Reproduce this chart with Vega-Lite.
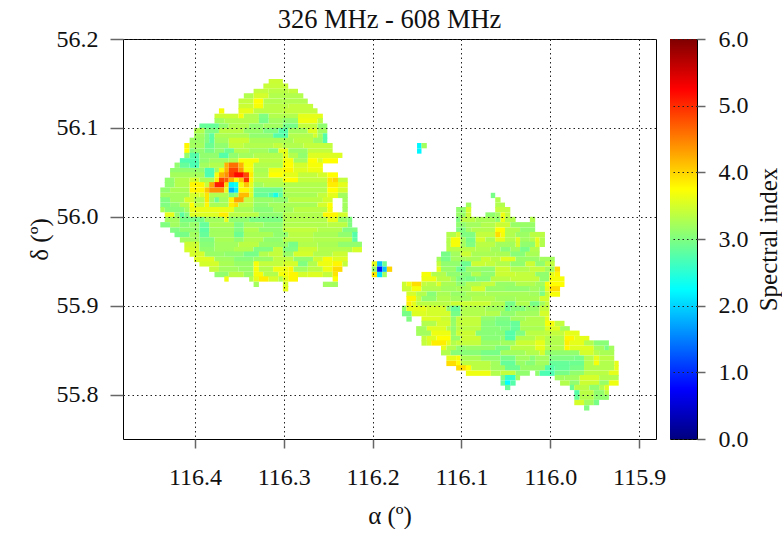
{"$schema":"https://vega.github.io/schema/vega-lite/v6.json","background":"white","padding":{"left":26,"top":6,"right":0,"bottom":0},"spacing":14,"bounds":"flush","config":{"font":"Liberation Serif","view":{"stroke":"black","strokeWidth":1},"axis":{"labelFont":"Liberation Serif","titleFont":"Liberation Serif","labelFontSize":24,"titleFontSize":25,"labelColor":"#111","titleColor":"#111","labelFontWeight":"normal","titleFontWeight":"normal"},"title":{"font":"Liberation Serif","fontSize":26.5,"fontWeight":"normal","color":"#111"}},"hconcat":[{"width":533,"height":400,"title":{"text":"326 MHz - 608 MHz","offset":-6},"data":{"values":[
{"a":116.317,"b":116.301,"d":56.152,"s":3.45},{"a":116.323,"b":116.295,"d":56.147,"s":3.42},
{"a":116.334,"b":116.317,"d":56.141,"s":3.4},{"a":116.317,"b":116.295,"d":56.141,"s":3.35},{"a":116.295,"b":116.284,"d":56.141,"s":3.4},
{"a":116.345,"b":116.334,"d":56.136,"s":3.3},{"a":116.334,"b":116.317,"d":56.136,"s":3.5},{"a":116.317,"b":116.278,"d":56.136,"s":3.3},
{"a":116.351,"b":116.334,"d":56.13,"s":3.4},{"a":116.334,"b":116.323,"d":56.13,"s":3.75},{"a":116.323,"b":116.301,"d":56.13,"s":3.3},{"a":116.301,"b":116.273,"d":56.13,"s":3.3},
{"a":116.351,"b":116.334,"d":56.124,"s":3.45},{"a":116.334,"b":116.323,"d":56.124,"s":3.7},{"a":116.323,"b":116.295,"d":56.124,"s":3.35},{"a":116.295,"b":116.267,"d":56.124,"s":3.4},
{"a":116.373,"b":116.367,"d":56.119,"s":3.7},{"a":116.351,"b":116.334,"d":56.119,"s":3.6},{"a":116.334,"b":116.301,"d":56.119,"s":3.35},{"a":116.301,"b":116.262,"d":56.119,"s":3.4},
{"a":116.378,"b":116.351,"d":56.113,"s":3.45},{"a":116.351,"b":116.345,"d":56.113,"s":3.7},{"a":116.345,"b":116.328,"d":56.113,"s":3.3},{"a":116.328,"b":116.317,"d":56.113,"s":3.0},{"a":116.317,"b":116.284,"d":56.113,"s":3.3},{"a":116.284,"b":116.256,"d":56.113,"s":3.6},
{"a":116.378,"b":116.367,"d":56.108,"s":3.2},{"a":116.367,"b":116.328,"d":56.108,"s":3.3},{"a":116.328,"b":116.317,"d":56.108,"s":2.95},{"a":116.317,"b":116.301,"d":56.108,"s":3.2},{"a":116.301,"b":116.284,"d":56.108,"s":3.1},{"a":116.284,"b":116.262,"d":56.108,"s":3.65},{"a":116.262,"b":116.256,"d":56.108,"s":3.35},
{"a":116.395,"b":116.373,"d":56.102,"s":2.85},{"a":116.373,"b":116.362,"d":56.102,"s":3.1},{"a":116.362,"b":116.339,"d":56.102,"s":3.3},{"a":116.339,"b":116.323,"d":56.102,"s":3.1},{"a":116.323,"b":116.301,"d":56.102,"s":3.2},{"a":116.301,"b":116.284,"d":56.102,"s":2.95},{"a":116.284,"b":116.262,"d":56.102,"s":3.4},{"a":116.262,"b":116.251,"d":56.102,"s":3.1},
{"a":116.401,"b":116.389,"d":56.097,"s":3.3},{"a":116.389,"b":116.373,"d":56.097,"s":3.0},{"a":116.373,"b":116.345,"d":56.097,"s":3.35},{"a":116.345,"b":116.323,"d":56.097,"s":3.15},{"a":116.323,"b":116.306,"d":56.097,"s":3.0},{"a":116.306,"b":116.295,"d":56.097,"s":2.75},{"a":116.295,"b":116.273,"d":56.097,"s":3.2},{"a":116.273,"b":116.262,"d":56.097,"s":3.55},{"a":116.262,"b":116.251,"d":56.097,"s":3.2},
{"a":116.401,"b":116.389,"d":56.091,"s":3.2},{"a":116.389,"b":116.384,"d":56.091,"s":3.0},{"a":116.384,"b":116.378,"d":56.091,"s":2.8},{"a":116.378,"b":116.339,"d":56.091,"s":3.27},{"a":116.339,"b":116.312,"d":56.091,"s":3.1},{"a":116.312,"b":116.295,"d":56.091,"s":2.75},{"a":116.295,"b":116.267,"d":56.091,"s":3.3},{"a":116.267,"b":116.262,"d":56.091,"s":3.5},{"a":116.262,"b":116.256,"d":56.091,"s":3.2},{"a":116.256,"b":116.251,"d":56.091,"s":2.75},
{"a":116.406,"b":116.389,"d":56.086,"s":3.17},{"a":116.389,"b":116.384,"d":56.086,"s":3.0},{"a":116.384,"b":116.378,"d":56.086,"s":2.8},{"a":116.378,"b":116.362,"d":56.086,"s":3.2},{"a":116.362,"b":116.339,"d":56.086,"s":3.45},{"a":116.339,"b":116.289,"d":56.086,"s":3.25},{"a":116.289,"b":116.267,"d":56.086,"s":3.35},{"a":116.267,"b":116.256,"d":56.086,"s":3.15},{"a":116.256,"b":116.251,"d":56.086,"s":2.75},
{"a":116.412,"b":116.406,"d":56.08,"s":3.8},{"a":116.406,"b":116.389,"d":56.08,"s":3.2},{"a":116.389,"b":116.378,"d":56.08,"s":2.9},{"a":116.378,"b":116.362,"d":56.08,"s":3.1},{"a":116.362,"b":116.345,"d":56.08,"s":3.4},{"a":116.345,"b":116.312,"d":56.08,"s":3.3},{"a":116.312,"b":116.301,"d":56.08,"s":3.4},{"a":116.301,"b":116.278,"d":56.08,"s":3.3},{"a":116.278,"b":116.245,"d":56.08,"s":3.4},
{"a":116.412,"b":116.406,"d":56.074,"s":3.75},{"a":116.406,"b":116.401,"d":56.074,"s":3.0},{"a":116.401,"b":116.389,"d":56.074,"s":3.1},{"a":116.389,"b":116.378,"d":56.074,"s":2.95},{"a":116.378,"b":116.367,"d":56.074,"s":3.1},{"a":116.367,"b":116.356,"d":56.074,"s":2.9},{"a":116.356,"b":116.339,"d":56.074,"s":3.3},{"a":116.339,"b":116.317,"d":56.074,"s":3.2},{"a":116.317,"b":116.306,"d":56.074,"s":3.05},{"a":116.306,"b":116.295,"d":56.074,"s":3.6},{"a":116.295,"b":116.273,"d":56.074,"s":3.15},{"a":116.273,"b":116.245,"d":56.074,"s":3.4},
{"a":116.412,"b":116.406,"d":56.069,"s":3.1},{"a":116.406,"b":116.395,"d":56.069,"s":2.75},{"a":116.395,"b":116.373,"d":56.069,"s":3.1},{"a":116.373,"b":116.362,"d":56.069,"s":2.75},{"a":116.362,"b":116.351,"d":56.069,"s":3.1},{"a":116.351,"b":116.334,"d":56.069,"s":3.2},{"a":116.334,"b":116.301,"d":56.069,"s":3.3},{"a":116.301,"b":116.295,"d":56.069,"s":3.6},{"a":116.295,"b":116.284,"d":56.069,"s":3.3},{"a":116.284,"b":116.273,"d":56.069,"s":3.1},{"a":116.273,"b":116.234,"d":56.069,"s":3.55},
{"a":116.417,"b":116.395,"d":56.063,"s":2.72},{"a":116.395,"b":116.384,"d":56.063,"s":3.1},{"a":116.384,"b":116.362,"d":56.063,"s":3.2},{"a":116.362,"b":116.351,"d":56.063,"s":3.3},{"a":116.351,"b":116.328,"d":56.063,"s":3.7},{"a":116.328,"b":116.301,"d":56.063,"s":3.35},{"a":116.301,"b":116.289,"d":56.063,"s":3.7},{"a":116.289,"b":116.273,"d":56.063,"s":3.2},{"a":116.273,"b":116.262,"d":56.063,"s":3.75},{"a":116.262,"b":116.256,"d":56.063,"s":3.5},{"a":116.256,"b":116.239,"d":56.063,"s":3.75},
{"a":116.423,"b":116.417,"d":56.058,"s":3.1},{"a":116.417,"b":116.406,"d":56.058,"s":2.85},{"a":116.406,"b":116.395,"d":56.058,"s":2.7},{"a":116.395,"b":116.384,"d":56.058,"s":3.2},{"a":116.384,"b":116.367,"d":56.058,"s":3.3},{"a":116.367,"b":116.362,"d":56.058,"s":4.2},{"a":116.362,"b":116.351,"d":56.058,"s":4.6},{"a":116.351,"b":116.345,"d":56.058,"s":4.2},{"a":116.345,"b":116.334,"d":56.058,"s":3.7},{"a":116.334,"b":116.301,"d":56.058,"s":3.3},{"a":116.301,"b":116.289,"d":56.058,"s":3.75},{"a":116.289,"b":116.273,"d":56.058,"s":3.5},{"a":116.273,"b":116.256,"d":56.058,"s":3.7},
{"a":116.428,"b":116.389,"d":56.052,"s":3.1},{"a":116.389,"b":116.378,"d":56.052,"s":2.7},{"a":116.378,"b":116.373,"d":56.052,"s":3.2},{"a":116.373,"b":116.367,"d":56.052,"s":3.7},{"a":116.367,"b":116.362,"d":56.052,"s":4.2},{"a":116.362,"b":116.351,"d":56.052,"s":4.85},{"a":116.351,"b":116.345,"d":56.052,"s":4.35},{"a":116.345,"b":116.334,"d":56.052,"s":3.7},{"a":116.334,"b":116.317,"d":56.052,"s":3.25},{"a":116.317,"b":116.301,"d":56.052,"s":3.65},{"a":116.301,"b":116.289,"d":56.052,"s":3.8},{"a":116.289,"b":116.273,"d":56.052,"s":3.55},{"a":116.273,"b":116.256,"d":56.052,"s":3.65},
{"a":116.428,"b":116.389,"d":56.047,"s":3.22},{"a":116.389,"b":116.378,"d":56.047,"s":2.7},{"a":116.378,"b":116.373,"d":56.047,"s":3.7},{"a":116.373,"b":116.367,"d":56.047,"s":4.2},{"a":116.367,"b":116.362,"d":56.047,"s":4.4},{"a":116.362,"b":116.356,"d":56.047,"s":4.9},{"a":116.356,"b":116.345,"d":56.047,"s":5.2},{"a":116.345,"b":116.339,"d":56.047,"s":4.8},{"a":116.339,"b":116.334,"d":56.047,"s":3.85},{"a":116.334,"b":116.317,"d":56.047,"s":3.3},{"a":116.317,"b":116.301,"d":56.047,"s":3.75},{"a":116.301,"b":116.284,"d":56.047,"s":3.6},{"a":116.284,"b":116.262,"d":56.047,"s":3.4},{"a":116.262,"b":116.251,"d":56.047,"s":3.5},{"a":116.251,"b":116.239,"d":56.047,"s":3.75},
{"a":116.434,"b":116.423,"d":56.041,"s":3.1},{"a":116.423,"b":116.406,"d":56.041,"s":3.3},{"a":116.406,"b":116.395,"d":56.041,"s":3.5},{"a":116.395,"b":116.378,"d":56.041,"s":3.25},{"a":116.378,"b":116.373,"d":56.041,"s":3.85},{"a":116.373,"b":116.367,"d":56.041,"s":4.85},{"a":116.367,"b":116.362,"d":56.041,"s":4.7},{"a":116.362,"b":116.356,"d":56.041,"s":4.2},{"a":116.356,"b":116.351,"d":56.041,"s":3.8},{"a":116.351,"b":116.345,"d":56.041,"s":4.1},{"a":116.345,"b":116.339,"d":56.041,"s":5.0},{"a":116.339,"b":116.334,"d":56.041,"s":3.8},{"a":116.334,"b":116.301,"d":56.041,"s":3.35},{"a":116.301,"b":116.284,"d":56.041,"s":3.75},{"a":116.284,"b":116.251,"d":56.041,"s":3.4},{"a":116.251,"b":116.245,"d":56.041,"s":3.9},{"a":116.245,"b":116.239,"d":56.041,"s":4.0},{"a":116.239,"b":116.228,"d":56.041,"s":3.4},
{"a":116.434,"b":116.423,"d":56.036,"s":3.1},{"a":116.423,"b":116.406,"d":56.036,"s":3.3},{"a":116.406,"b":116.389,"d":56.036,"s":3.8},{"a":116.389,"b":116.384,"d":56.036,"s":3.4},{"a":116.384,"b":116.378,"d":56.036,"s":4.3},{"a":116.378,"b":116.367,"d":56.036,"s":5.1},{"a":116.367,"b":116.362,"d":56.036,"s":4.0},{"a":116.362,"b":116.356,"d":56.036,"s":2.2},{"a":116.356,"b":116.351,"d":56.036,"s":2.35},{"a":116.351,"b":116.345,"d":56.036,"s":3.7},{"a":116.345,"b":116.339,"d":56.036,"s":4.1},{"a":116.339,"b":116.334,"d":56.036,"s":3.6},{"a":116.334,"b":116.323,"d":56.036,"s":3.2},{"a":116.323,"b":116.251,"d":56.036,"s":3.3},{"a":116.251,"b":116.239,"d":56.036,"s":3.85},{"a":116.239,"b":116.228,"d":56.036,"s":3.6},
{"a":116.439,"b":116.428,"d":56.03,"s":3.1},{"a":116.428,"b":116.406,"d":56.03,"s":3.25},{"a":116.406,"b":116.389,"d":56.03,"s":3.8},{"a":116.389,"b":116.384,"d":56.03,"s":4.1},{"a":116.384,"b":116.367,"d":56.03,"s":4.4},{"a":116.367,"b":116.362,"d":56.03,"s":3.6},{"a":116.362,"b":116.356,"d":56.03,"s":1.8},{"a":116.356,"b":116.351,"d":56.03,"s":2.15},{"a":116.351,"b":116.339,"d":56.03,"s":3.8},{"a":116.339,"b":116.334,"d":56.03,"s":3.55},{"a":116.334,"b":116.301,"d":56.03,"s":2.92},{"a":116.301,"b":116.251,"d":56.03,"s":3.3},{"a":116.251,"b":116.239,"d":56.03,"s":3.75},{"a":116.239,"b":116.228,"d":56.03,"s":3.5},
{"a":116.439,"b":116.406,"d":56.024,"s":3.2},{"a":116.406,"b":116.395,"d":56.024,"s":3.5},{"a":116.395,"b":116.389,"d":56.024,"s":3.55},{"a":116.389,"b":116.384,"d":56.024,"s":3.9},{"a":116.384,"b":116.362,"d":56.024,"s":3.3},{"a":116.362,"b":116.356,"d":56.024,"s":2.95},{"a":116.356,"b":116.351,"d":56.024,"s":3.1},{"a":116.351,"b":116.339,"d":56.024,"s":4.15},{"a":116.339,"b":116.334,"d":56.024,"s":3.55},{"a":116.334,"b":116.317,"d":56.024,"s":2.85},{"a":116.317,"b":116.312,"d":56.024,"s":2.7},{"a":116.312,"b":116.306,"d":56.024,"s":2.4},{"a":116.306,"b":116.301,"d":56.024,"s":2.8},{"a":116.301,"b":116.262,"d":56.024,"s":3.25},{"a":116.262,"b":116.251,"d":56.024,"s":3.4},{"a":116.251,"b":116.239,"d":56.024,"s":3.6},{"a":116.239,"b":116.228,"d":56.024,"s":3.2},
{"a":116.439,"b":116.428,"d":56.019,"s":3.0},{"a":116.428,"b":116.412,"d":56.019,"s":3.2},{"a":116.412,"b":116.401,"d":56.019,"s":3.5},{"a":116.401,"b":116.389,"d":56.019,"s":3.3},{"a":116.389,"b":116.384,"d":56.019,"s":3.9},{"a":116.384,"b":116.378,"d":56.019,"s":3.2},{"a":116.378,"b":116.373,"d":56.019,"s":2.9},{"a":116.373,"b":116.362,"d":56.019,"s":3.2},{"a":116.362,"b":116.356,"d":56.019,"s":3.8},{"a":116.356,"b":116.345,"d":56.019,"s":4.3},{"a":116.345,"b":116.334,"d":56.019,"s":3.4},{"a":116.334,"b":116.312,"d":56.019,"s":3.15},{"a":116.312,"b":116.295,"d":56.019,"s":3.1},{"a":116.295,"b":116.256,"d":56.019,"s":3.35},{"a":116.256,"b":116.245,"d":56.019,"s":3.5},{"a":116.234,"b":116.228,"d":56.019,"s":3.2},
{"a":116.439,"b":116.428,"d":56.013,"s":3.0},{"a":116.428,"b":116.417,"d":56.013,"s":3.1},{"a":116.417,"b":116.406,"d":56.013,"s":3.3},{"a":116.406,"b":116.401,"d":56.013,"s":3.75},{"a":116.401,"b":116.389,"d":56.013,"s":3.4},{"a":116.389,"b":116.384,"d":56.013,"s":3.8},{"a":116.384,"b":116.362,"d":56.013,"s":3.25},{"a":116.362,"b":116.356,"d":56.013,"s":3.85},{"a":116.356,"b":116.351,"d":56.013,"s":3.95},{"a":116.351,"b":116.334,"d":56.013,"s":3.35},{"a":116.334,"b":116.317,"d":56.013,"s":3.1},{"a":116.317,"b":116.301,"d":56.013,"s":3.2},{"a":116.301,"b":116.262,"d":56.013,"s":3.25},{"a":116.262,"b":116.251,"d":56.013,"s":3.5},{"a":116.251,"b":116.245,"d":56.013,"s":3.75},{"a":116.234,"b":116.228,"d":56.013,"s":3.2},
{"a":116.439,"b":116.434,"d":56.008,"s":3.25},{"a":116.434,"b":116.412,"d":56.008,"s":3.05},{"a":116.412,"b":116.406,"d":56.008,"s":3.2},{"a":116.406,"b":116.356,"d":56.008,"s":3.62},{"a":116.356,"b":116.334,"d":56.008,"s":3.25},{"a":116.334,"b":116.312,"d":56.008,"s":3.05},{"a":116.312,"b":116.289,"d":56.008,"s":3.2},{"a":116.289,"b":116.251,"d":56.008,"s":3.35},{"a":116.251,"b":116.245,"d":56.008,"s":3.7},{"a":116.234,"b":116.228,"d":56.008,"s":3.2},
{"a":116.434,"b":116.423,"d":56.002,"s":3.6},{"a":116.423,"b":116.417,"d":56.002,"s":3.1},{"a":116.417,"b":116.412,"d":56.002,"s":2.8},{"a":116.412,"b":116.406,"d":56.002,"s":3.0},{"a":116.406,"b":116.373,"d":56.002,"s":3.55},{"a":116.373,"b":116.362,"d":56.002,"s":3.85},{"a":116.362,"b":116.328,"d":56.002,"s":3.35},{"a":116.328,"b":116.301,"d":56.002,"s":3.1},{"a":116.301,"b":116.256,"d":56.002,"s":3.3},{"a":116.256,"b":116.239,"d":56.002,"s":3.8},{"a":116.239,"b":116.228,"d":56.002,"s":3.5},
{"a":116.434,"b":116.417,"d":55.997,"s":3.2},{"a":116.417,"b":116.389,"d":55.997,"s":2.95},{"a":116.389,"b":116.367,"d":55.997,"s":3.2},{"a":116.367,"b":116.362,"d":55.997,"s":3.6},{"a":116.362,"b":116.339,"d":55.997,"s":3.1},{"a":116.339,"b":116.301,"d":55.997,"s":2.98},{"a":116.301,"b":116.251,"d":55.997,"s":3.3},{"a":116.251,"b":116.239,"d":55.997,"s":3.6},{"a":116.239,"b":116.228,"d":55.997,"s":3.15},{"a":116.228,"b":116.223,"d":55.997,"s":3.0},
{"a":116.439,"b":116.428,"d":55.991,"s":3.0},{"a":116.428,"b":116.417,"d":55.991,"s":3.2},{"a":116.417,"b":116.406,"d":55.991,"s":3.05},{"a":116.406,"b":116.395,"d":55.991,"s":3.15},{"a":116.395,"b":116.384,"d":55.991,"s":2.85},{"a":116.384,"b":116.356,"d":55.991,"s":3.25},{"a":116.356,"b":116.345,"d":55.991,"s":3.0},{"a":116.345,"b":116.323,"d":55.991,"s":3.2},{"a":116.323,"b":116.301,"d":55.991,"s":3.1},{"a":116.301,"b":116.251,"d":55.991,"s":3.3},{"a":116.251,"b":116.228,"d":55.991,"s":3.35},{"a":116.228,"b":116.223,"d":55.991,"s":3.0},
{"a":116.428,"b":116.417,"d":55.985,"s":3.0},{"a":116.417,"b":116.395,"d":55.985,"s":3.1},{"a":116.395,"b":116.384,"d":55.985,"s":2.8},{"a":116.384,"b":116.356,"d":55.985,"s":3.2},{"a":116.356,"b":116.345,"d":55.985,"s":3.0},{"a":116.345,"b":116.328,"d":55.985,"s":3.3},{"a":116.328,"b":116.301,"d":55.985,"s":3.1},{"a":116.301,"b":116.262,"d":55.985,"s":3.4},{"a":116.262,"b":116.234,"d":55.985,"s":3.3},{"a":116.234,"b":116.217,"d":55.985,"s":3.0},
{"a":116.423,"b":116.406,"d":55.98,"s":2.95},{"a":116.406,"b":116.395,"d":55.98,"s":3.2},{"a":116.395,"b":116.384,"d":55.98,"s":2.85},{"a":116.384,"b":116.356,"d":55.98,"s":3.2},{"a":116.356,"b":116.345,"d":55.98,"s":2.9},{"a":116.345,"b":116.312,"d":55.98,"s":3.25},{"a":116.312,"b":116.295,"d":55.98,"s":3.1},{"a":116.295,"b":116.267,"d":55.98,"s":3.35},{"a":116.267,"b":116.239,"d":55.98,"s":3.25},{"a":116.239,"b":116.223,"d":55.98,"s":3.1},{"a":116.223,"b":116.217,"d":55.98,"s":2.75},
{"a":116.417,"b":116.395,"d":55.974,"s":3.2},{"a":116.395,"b":116.378,"d":55.974,"s":3.0},{"a":116.378,"b":116.356,"d":55.974,"s":3.25},{"a":116.356,"b":116.345,"d":55.974,"s":3.1},{"a":116.345,"b":116.323,"d":55.974,"s":3.3},{"a":116.323,"b":116.301,"d":55.974,"s":3.1},{"a":116.301,"b":116.267,"d":55.974,"s":3.35},{"a":116.267,"b":116.223,"d":55.974,"s":3.3},{"a":116.223,"b":116.217,"d":55.974,"s":2.8},
{"a":116.412,"b":116.395,"d":55.969,"s":3.45},{"a":116.395,"b":116.378,"d":55.969,"s":3.05},{"a":116.378,"b":116.351,"d":55.969,"s":3.2},{"a":116.351,"b":116.328,"d":55.969,"s":3.35},{"a":116.328,"b":116.295,"d":55.969,"s":3.15},{"a":116.295,"b":116.284,"d":55.969,"s":2.95},{"a":116.284,"b":116.262,"d":55.969,"s":3.3},{"a":116.262,"b":116.239,"d":55.969,"s":3.25},{"a":116.239,"b":116.212,"d":55.969,"s":3.1},
{"a":116.412,"b":116.395,"d":55.963,"s":3.5},{"a":116.395,"b":116.378,"d":55.963,"s":3.1},{"a":116.378,"b":116.356,"d":55.963,"s":3.2},{"a":116.356,"b":116.334,"d":55.963,"s":3.3},{"a":116.334,"b":116.312,"d":55.963,"s":3.0},{"a":116.312,"b":116.301,"d":55.963,"s":3.4},{"a":116.301,"b":116.284,"d":55.963,"s":3.0},{"a":116.284,"b":116.262,"d":55.963,"s":3.45},{"a":116.262,"b":116.223,"d":55.963,"s":3.3},{"a":116.223,"b":116.212,"d":55.963,"s":3.5},
{"a":116.406,"b":116.389,"d":55.958,"s":3.5},{"a":116.389,"b":116.367,"d":55.958,"s":3.15},{"a":116.367,"b":116.345,"d":55.958,"s":3.1},{"a":116.345,"b":116.328,"d":55.958,"s":2.95},{"a":116.328,"b":116.317,"d":55.958,"s":3.3},{"a":116.317,"b":116.301,"d":55.958,"s":3.4},{"a":116.301,"b":116.289,"d":55.958,"s":3.15},{"a":116.289,"b":116.267,"d":55.958,"s":3.5},{"a":116.267,"b":116.245,"d":55.958,"s":3.3},{"a":116.245,"b":116.228,"d":55.958,"s":3.45},
{"a":116.401,"b":116.378,"d":55.952,"s":3.55},{"a":116.378,"b":116.356,"d":55.952,"s":3.2},{"a":116.356,"b":116.334,"d":55.952,"s":3.05},{"a":116.334,"b":116.312,"d":55.952,"s":3.15},{"a":116.312,"b":116.289,"d":55.952,"s":3.38},{"a":116.289,"b":116.267,"d":55.952,"s":3.1},{"a":116.267,"b":116.256,"d":55.952,"s":3.45},{"a":116.256,"b":116.245,"d":55.952,"s":3.7},{"a":116.245,"b":116.228,"d":55.952,"s":3.55},
{"a":116.395,"b":116.373,"d":55.947,"s":3.5},{"a":116.373,"b":116.356,"d":55.947,"s":3.25},{"a":116.356,"b":116.334,"d":55.947,"s":3.15},{"a":116.334,"b":116.328,"d":55.947,"s":3.7},{"a":116.328,"b":116.301,"d":55.947,"s":3.4},{"a":116.301,"b":116.284,"d":55.947,"s":3.5},{"a":116.284,"b":116.273,"d":55.947,"s":3.0},{"a":116.273,"b":116.262,"d":55.947,"s":3.3},{"a":116.262,"b":116.245,"d":55.947,"s":3.65},{"a":116.245,"b":116.234,"d":55.947,"s":3.8},{"a":116.234,"b":116.228,"d":55.947,"s":3.4},
{"a":116.384,"b":116.373,"d":55.941,"s":3.4},{"a":116.373,"b":116.351,"d":55.941,"s":3.2},{"a":116.351,"b":116.334,"d":55.941,"s":3.15},{"a":116.334,"b":116.328,"d":55.941,"s":3.7},{"a":116.328,"b":116.312,"d":55.941,"s":3.3},{"a":116.312,"b":116.295,"d":55.941,"s":3.65},{"a":116.295,"b":116.289,"d":55.941,"s":3.8},{"a":116.289,"b":116.273,"d":55.941,"s":3.2},{"a":116.273,"b":116.256,"d":55.941,"s":3.35},{"a":116.256,"b":116.245,"d":55.941,"s":3.65},{"a":116.245,"b":116.234,"d":55.941,"s":3.95},
{"a":116.378,"b":116.362,"d":55.935,"s":3.1},{"a":116.362,"b":116.345,"d":55.935,"s":3.35},{"a":116.345,"b":116.334,"d":55.935,"s":3.15},{"a":116.334,"b":116.323,"d":55.935,"s":3.7},{"a":116.323,"b":116.306,"d":55.935,"s":3.3},{"a":116.306,"b":116.295,"d":55.935,"s":3.7},{"a":116.295,"b":116.284,"d":55.935,"s":3.8},{"a":116.284,"b":116.273,"d":55.935,"s":3.5},{"a":116.273,"b":116.256,"d":55.935,"s":3.55},{"a":116.256,"b":116.245,"d":55.935,"s":3.4},{"a":116.245,"b":116.239,"d":55.935,"s":3.9},
{"a":116.367,"b":116.362,"d":55.93,"s":3.65},{"a":116.339,"b":116.334,"d":55.93,"s":3.3},{"a":116.334,"b":116.328,"d":55.93,"s":3.6},{"a":116.328,"b":116.317,"d":55.93,"s":3.85},{"a":116.317,"b":116.306,"d":55.93,"s":3.5},{"a":116.306,"b":116.301,"d":55.93,"s":3.3},{"a":116.301,"b":116.295,"d":55.93,"s":3.6},{"a":116.295,"b":116.284,"d":55.93,"s":3.8},{"a":116.245,"b":116.239,"d":55.93,"s":3.75},
{"a":116.334,"b":116.328,"d":55.924,"s":3.2},{"a":116.301,"b":116.295,"d":55.924,"s":3.5},{"a":116.256,"b":116.239,"d":55.924,"s":3.2},
{"a":116.301,"b":116.295,"d":55.919,"s":3.6},
{"a":116.15,"b":116.145,"d":56.08,"s":2.2},{"a":116.145,"b":116.139,"d":56.08,"s":3.2},{"a":116.15,"b":116.145,"d":56.074,"s":2.2},
{"a":116.201,"b":116.195,"d":55.947,"s":3.6},{"a":116.195,"b":116.189,"d":55.947,"s":1.9},{"a":116.189,"b":116.184,"d":55.947,"s":2.9},
{"a":116.201,"b":116.195,"d":55.941,"s":3.1},{"a":116.195,"b":116.189,"d":55.941,"s":0.9},{"a":116.189,"b":116.184,"d":55.941,"s":1.9},{"a":116.184,"b":116.178,"d":55.941,"s":4.0},
{"a":116.201,"b":116.195,"d":55.935,"s":3.9},{"a":116.195,"b":116.189,"d":55.935,"s":2.1},{"a":116.189,"b":116.184,"d":55.935,"s":3.2},
{"a":116.067,"b":116.062,"d":56.024,"s":2.95},{"a":116.062,"b":116.056,"d":56.019,"s":3.3},{"a":116.095,"b":116.089,"d":56.013,"s":3.2},{"a":116.062,"b":116.051,"d":56.013,"s":3.3},
{"a":116.106,"b":116.095,"d":56.008,"s":3.1},{"a":116.095,"b":116.089,"d":56.008,"s":3.5},{"a":116.062,"b":116.045,"d":56.008,"s":3.4},
{"a":116.106,"b":116.095,"d":56.002,"s":3.15},{"a":116.095,"b":116.089,"d":56.002,"s":3.45},{"a":116.073,"b":116.062,"d":56.002,"s":3.1},{"a":116.062,"b":116.056,"d":56.002,"s":3.2},{"a":116.056,"b":116.051,"d":56.002,"s":3.65},{"a":116.051,"b":116.045,"d":56.002,"s":3.4},
{"a":116.106,"b":116.101,"d":55.997,"s":3.0},{"a":116.101,"b":116.084,"d":55.997,"s":3.35},{"a":116.084,"b":116.062,"d":55.997,"s":3.25},{"a":116.062,"b":116.056,"d":55.997,"s":3.1},{"a":116.056,"b":116.051,"d":55.997,"s":3.65},{"a":116.051,"b":116.039,"d":55.997,"s":3.3},{"a":116.023,"b":116.017,"d":55.997,"s":3.3},
{"a":116.106,"b":116.095,"d":55.991,"s":3.1},{"a":116.095,"b":116.078,"d":55.991,"s":3.2},{"a":116.078,"b":116.062,"d":55.991,"s":3.3},{"a":116.062,"b":116.045,"d":55.991,"s":3.45},{"a":116.045,"b":116.017,"d":55.991,"s":3.15},
{"a":116.106,"b":116.095,"d":55.985,"s":3.0},{"a":116.095,"b":116.089,"d":55.985,"s":3.2},{"a":116.089,"b":116.062,"d":55.985,"s":3.3},{"a":116.062,"b":116.051,"d":55.985,"s":3.75},{"a":116.051,"b":116.034,"d":55.985,"s":3.3},{"a":116.034,"b":116.017,"d":55.985,"s":3.1},
{"a":116.117,"b":116.106,"d":55.98,"s":3.3},{"a":116.106,"b":116.101,"d":55.98,"s":3.5},{"a":116.101,"b":116.084,"d":55.98,"s":3.0},{"a":116.084,"b":116.062,"d":55.98,"s":3.4},{"a":116.062,"b":116.056,"d":55.98,"s":3.95},{"a":116.056,"b":116.051,"d":55.98,"s":3.7},{"a":116.051,"b":116.039,"d":55.98,"s":3.3},{"a":116.039,"b":116.023,"d":55.98,"s":3.17},{"a":116.023,"b":116.006,"d":55.98,"s":3.35},
{"a":116.117,"b":116.112,"d":55.974,"s":3.3},{"a":116.112,"b":116.101,"d":55.974,"s":3.7},{"a":116.101,"b":116.095,"d":55.974,"s":3.2},{"a":116.095,"b":116.084,"d":55.974,"s":2.95},{"a":116.084,"b":116.073,"d":55.974,"s":3.5},{"a":116.073,"b":116.062,"d":55.974,"s":3.25},{"a":116.062,"b":116.051,"d":55.974,"s":3.6},{"a":116.051,"b":116.039,"d":55.974,"s":3.3},{"a":116.039,"b":116.034,"d":55.974,"s":3.55},{"a":116.034,"b":116.023,"d":55.974,"s":3.2},{"a":116.023,"b":116.017,"d":55.974,"s":3.3},{"a":116.017,"b":116.012,"d":55.974,"s":3.6},{"a":116.012,"b":116.006,"d":55.974,"s":3.3},
{"a":116.117,"b":116.112,"d":55.969,"s":3.3},{"a":116.112,"b":116.101,"d":55.969,"s":3.7},{"a":116.101,"b":116.095,"d":55.969,"s":3.2},{"a":116.095,"b":116.084,"d":55.969,"s":3.0},{"a":116.084,"b":116.062,"d":55.969,"s":3.35},{"a":116.062,"b":116.039,"d":55.969,"s":3.2},{"a":116.039,"b":116.034,"d":55.969,"s":3.5},{"a":116.034,"b":116.017,"d":55.969,"s":3.1},{"a":116.017,"b":116.012,"d":55.969,"s":3.55},{"a":116.012,"b":116.006,"d":55.969,"s":3.3},
{"a":116.117,"b":116.084,"d":55.963,"s":3.33},{"a":116.084,"b":116.067,"d":55.963,"s":3.3},{"a":116.067,"b":116.056,"d":55.963,"s":3.2},{"a":116.056,"b":116.045,"d":55.963,"s":3.05},{"a":116.045,"b":116.034,"d":55.963,"s":3.2},{"a":116.034,"b":116.023,"d":55.963,"s":2.95},{"a":116.023,"b":116.012,"d":55.963,"s":3.3},
{"a":116.123,"b":116.112,"d":55.958,"s":2.95},{"a":116.112,"b":116.101,"d":55.958,"s":3.2},{"a":116.101,"b":116.089,"d":55.958,"s":3.45},{"a":116.089,"b":116.062,"d":55.958,"s":3.25},{"a":116.062,"b":116.045,"d":55.958,"s":3.25},{"a":116.045,"b":116.028,"d":55.958,"s":3.05},{"a":116.028,"b":116.012,"d":55.958,"s":3.25},
{"a":116.128,"b":116.123,"d":55.952,"s":3.2},{"a":116.123,"b":116.112,"d":55.952,"s":2.95},{"a":116.112,"b":116.095,"d":55.952,"s":3.2},{"a":116.095,"b":116.078,"d":55.952,"s":3.25},{"a":116.078,"b":116.067,"d":55.952,"s":3.45},{"a":116.067,"b":116.056,"d":55.952,"s":3.35},{"a":116.056,"b":116.039,"d":55.952,"s":3.55},{"a":116.039,"b":116.012,"d":55.952,"s":3.15},{"a":116.012,"b":115.995,"d":55.952,"s":3.2},
{"a":116.128,"b":116.123,"d":55.947,"s":3.4},{"a":116.123,"b":116.101,"d":55.947,"s":3.1},{"a":116.101,"b":116.089,"d":55.947,"s":2.9},{"a":116.089,"b":116.073,"d":55.947,"s":3.45},{"a":116.073,"b":116.062,"d":55.947,"s":3.4},{"a":116.062,"b":116.045,"d":55.947,"s":3.3},{"a":116.045,"b":116.028,"d":55.947,"s":3.1},{"a":116.028,"b":116.017,"d":55.947,"s":3.45},{"a":116.017,"b":116.006,"d":55.947,"s":3.1},{"a":116.006,"b":115.995,"d":55.947,"s":3.4},
{"a":116.128,"b":116.123,"d":55.941,"s":3.6},{"a":116.123,"b":116.106,"d":55.941,"s":3.15},{"a":116.106,"b":116.095,"d":55.941,"s":2.9},{"a":116.095,"b":116.078,"d":55.941,"s":3.15},{"a":116.078,"b":116.062,"d":55.941,"s":3.1},{"a":116.062,"b":116.045,"d":55.941,"s":3.45},{"a":116.045,"b":116.023,"d":55.941,"s":3.3},{"a":116.023,"b":116.006,"d":55.941,"s":3.4},{"a":116.006,"b":115.995,"d":55.941,"s":3.2},{"a":115.995,"b":115.989,"d":55.941,"s":3.95},
{"a":116.145,"b":116.134,"d":55.935,"s":3.7},{"a":116.134,"b":116.117,"d":55.935,"s":3.3},{"a":116.117,"b":116.101,"d":55.935,"s":3.1},{"a":116.101,"b":116.089,"d":55.935,"s":3.05},{"a":116.089,"b":116.078,"d":55.935,"s":3.3},{"a":116.078,"b":116.062,"d":55.935,"s":3.1},{"a":116.062,"b":116.039,"d":55.935,"s":3.45},{"a":116.039,"b":116.017,"d":55.935,"s":3.4},{"a":116.017,"b":116.001,"d":55.935,"s":3.1},{"a":116.001,"b":115.995,"d":55.935,"s":3.6},{"a":115.995,"b":115.989,"d":55.935,"s":3.8},
{"a":116.145,"b":116.128,"d":55.93,"s":3.65},{"a":116.128,"b":116.112,"d":55.93,"s":3.35},{"a":116.112,"b":116.106,"d":55.93,"s":3.2},{"a":116.106,"b":116.095,"d":55.93,"s":3.0},{"a":116.095,"b":116.084,"d":55.93,"s":2.95},{"a":116.084,"b":116.067,"d":55.93,"s":3.05},{"a":116.067,"b":116.045,"d":55.93,"s":3.35},{"a":116.045,"b":116.012,"d":55.93,"s":3.4},{"a":116.012,"b":116.001,"d":55.93,"s":3.1},{"a":116.001,"b":115.984,"d":55.93,"s":3.7},
{"a":116.167,"b":116.162,"d":55.924,"s":3.45},{"a":116.162,"b":116.156,"d":55.924,"s":3.65},{"a":116.156,"b":116.145,"d":55.924,"s":3.95},{"a":116.145,"b":116.139,"d":55.924,"s":3.4},{"a":116.139,"b":116.128,"d":55.924,"s":3.35},{"a":116.128,"b":116.123,"d":55.924,"s":3.55},{"a":116.123,"b":116.106,"d":55.924,"s":3.25},{"a":116.106,"b":116.095,"d":55.924,"s":3.1},{"a":116.095,"b":116.078,"d":55.924,"s":3.3},{"a":116.078,"b":116.062,"d":55.924,"s":3.4},{"a":116.062,"b":116.039,"d":55.924,"s":3.15},{"a":116.039,"b":116.017,"d":55.924,"s":3.3},{"a":116.017,"b":116.006,"d":55.924,"s":3.2},{"a":116.006,"b":116.001,"d":55.924,"s":3.7},{"a":116.001,"b":115.984,"d":55.924,"s":3.75},
{"a":116.167,"b":116.156,"d":55.919,"s":3.45},{"a":116.156,"b":116.145,"d":55.919,"s":3.7},{"a":116.145,"b":116.123,"d":55.919,"s":3.3},{"a":116.123,"b":116.106,"d":55.919,"s":3.2},{"a":116.106,"b":116.089,"d":55.919,"s":3.25},{"a":116.089,"b":116.073,"d":55.919,"s":3.5},{"a":116.073,"b":116.051,"d":55.919,"s":3.15},{"a":116.051,"b":116.023,"d":55.919,"s":3.1},{"a":116.023,"b":116.012,"d":55.919,"s":3.2},{"a":116.012,"b":116.006,"d":55.919,"s":3.1},{"a":116.006,"b":116.001,"d":55.919,"s":3.6},{"a":116.001,"b":115.989,"d":55.919,"s":3.95},
{"a":116.162,"b":116.151,"d":55.913,"s":3.5},{"a":116.151,"b":116.139,"d":55.913,"s":3.3},{"a":116.139,"b":116.128,"d":55.913,"s":3.05},{"a":116.128,"b":116.112,"d":55.913,"s":3.25},{"a":116.112,"b":116.095,"d":55.913,"s":3.15},{"a":116.095,"b":116.073,"d":55.913,"s":3.25},{"a":116.073,"b":116.023,"d":55.913,"s":3.23},{"a":116.023,"b":116.012,"d":55.913,"s":3.2},{"a":116.012,"b":116.006,"d":55.913,"s":3.0},{"a":116.006,"b":116.001,"d":55.913,"s":3.45},{"a":116.001,"b":115.989,"d":55.913,"s":3.7},
{"a":116.162,"b":116.151,"d":55.908,"s":3.8},{"a":116.151,"b":116.145,"d":55.908,"s":3.4},{"a":116.145,"b":116.128,"d":55.908,"s":3.1},{"a":116.128,"b":116.112,"d":55.908,"s":3.3},{"a":116.112,"b":116.089,"d":55.908,"s":3.2},{"a":116.089,"b":116.062,"d":55.908,"s":3.3},{"a":116.062,"b":116.039,"d":55.908,"s":3.2},{"a":116.039,"b":116.012,"d":55.908,"s":3.25},{"a":116.012,"b":116.001,"d":55.908,"s":3.5},
{"a":116.162,"b":116.156,"d":55.902,"s":3.85},{"a":116.156,"b":116.151,"d":55.902,"s":3.6},{"a":116.151,"b":116.112,"d":55.902,"s":3.35},{"a":116.112,"b":116.067,"d":55.902,"s":3.45},{"a":116.067,"b":116.051,"d":55.902,"s":3.3},{"a":116.051,"b":116.039,"d":55.902,"s":2.95},{"a":116.039,"b":116.023,"d":55.902,"s":3.3},{"a":116.023,"b":116.012,"d":55.902,"s":2.95},{"a":116.012,"b":116.006,"d":55.902,"s":3.2},{"a":116.006,"b":116.001,"d":55.902,"s":3.4},
{"a":116.167,"b":116.162,"d":55.897,"s":3.1},{"a":116.162,"b":116.139,"d":55.897,"s":3.6},{"a":116.139,"b":116.117,"d":55.897,"s":3.5},{"a":116.117,"b":116.112,"d":55.897,"s":3.1},{"a":116.112,"b":116.101,"d":55.897,"s":2.85},{"a":116.101,"b":116.073,"d":55.897,"s":3.3},{"a":116.073,"b":116.051,"d":55.897,"s":3.2},{"a":116.051,"b":116.045,"d":55.897,"s":2.9},{"a":116.045,"b":116.034,"d":55.897,"s":3.05},{"a":116.034,"b":116.028,"d":55.897,"s":3.0},{"a":116.028,"b":116.012,"d":55.897,"s":3.15},{"a":116.012,"b":116.001,"d":55.897,"s":3.4},
{"a":116.167,"b":116.156,"d":55.891,"s":2.95},{"a":116.156,"b":116.139,"d":55.891,"s":3.55},{"a":116.139,"b":116.112,"d":55.891,"s":3.5},{"a":116.112,"b":116.101,"d":55.891,"s":2.95},{"a":116.101,"b":116.073,"d":55.891,"s":3.3},{"a":116.073,"b":116.056,"d":55.891,"s":3.3},{"a":116.056,"b":116.039,"d":55.891,"s":3.1},{"a":116.039,"b":116.012,"d":55.891,"s":3.2},{"a":116.012,"b":116.001,"d":55.891,"s":3.5},
{"a":116.162,"b":116.156,"d":55.885,"s":3.0},{"a":116.145,"b":116.123,"d":55.885,"s":3.55},{"a":116.123,"b":116.112,"d":55.885,"s":3.45},{"a":116.112,"b":116.106,"d":55.885,"s":3.1},{"a":116.106,"b":116.078,"d":55.885,"s":3.4},{"a":116.078,"b":116.062,"d":55.885,"s":3.1},{"a":116.062,"b":116.045,"d":55.885,"s":3.0},{"a":116.045,"b":116.028,"d":55.885,"s":3.2},{"a":116.028,"b":116.006,"d":55.885,"s":3.3},{"a":116.006,"b":116.001,"d":55.885,"s":3.6},
{"a":116.145,"b":116.128,"d":55.88,"s":3.3},{"a":116.128,"b":116.112,"d":55.88,"s":3.5},{"a":116.112,"b":116.106,"d":55.88,"s":3.13},{"a":116.106,"b":116.078,"d":55.88,"s":3.4},{"a":116.078,"b":116.062,"d":55.88,"s":3.05},{"a":116.062,"b":116.045,"d":55.88,"s":2.95},{"a":116.045,"b":116.034,"d":55.88,"s":2.85},{"a":116.034,"b":116.006,"d":55.88,"s":3.3},{"a":116.006,"b":115.995,"d":55.88,"s":3.7},{"a":115.995,"b":115.984,"d":55.88,"s":3.4},
{"a":116.151,"b":116.139,"d":55.874,"s":3.2},{"a":116.139,"b":116.117,"d":55.874,"s":3.55},{"a":116.117,"b":116.112,"d":55.874,"s":3.3},{"a":116.112,"b":116.106,"d":55.874,"s":3.1},{"a":116.106,"b":116.078,"d":55.874,"s":3.35},{"a":116.078,"b":116.056,"d":55.874,"s":3.05},{"a":116.056,"b":116.045,"d":55.874,"s":3.0},{"a":116.045,"b":116.034,"d":55.874,"s":2.85},{"a":116.034,"b":116.006,"d":55.874,"s":3.25},{"a":116.006,"b":115.989,"d":55.874,"s":3.55},{"a":115.989,"b":115.978,"d":55.874,"s":3.2},
{"a":116.151,"b":116.134,"d":55.869,"s":3.2},{"a":116.134,"b":116.112,"d":55.869,"s":3.65},{"a":116.112,"b":116.106,"d":55.869,"s":3.15},{"a":116.106,"b":116.084,"d":55.869,"s":3.45},{"a":116.084,"b":116.062,"d":55.869,"s":3.05},{"a":116.062,"b":116.051,"d":55.869,"s":3.05},{"a":116.051,"b":116.039,"d":55.869,"s":2.75},{"a":116.039,"b":116.028,"d":55.869,"s":3.0},{"a":116.028,"b":116.006,"d":55.869,"s":3.35},{"a":116.006,"b":115.984,"d":55.869,"s":3.4},{"a":115.984,"b":115.967,"d":55.869,"s":3.6},
{"a":116.145,"b":116.139,"d":55.863,"s":3.4},{"a":116.139,"b":116.128,"d":55.863,"s":3.55},{"a":116.128,"b":116.112,"d":55.863,"s":3.75},{"a":116.112,"b":116.101,"d":55.863,"s":3.15},{"a":116.101,"b":116.078,"d":55.863,"s":3.45},{"a":116.078,"b":116.056,"d":55.863,"s":3.05},{"a":116.056,"b":116.051,"d":55.863,"s":3.1},{"a":116.051,"b":116.039,"d":55.863,"s":2.75},{"a":116.039,"b":116.017,"d":55.863,"s":3.3},{"a":116.017,"b":116.006,"d":55.863,"s":3.45},{"a":116.006,"b":115.984,"d":55.863,"s":3.3},{"a":115.984,"b":115.973,"d":55.863,"s":3.8},{"a":115.973,"b":115.956,"d":55.863,"s":3.6},
{"a":116.145,"b":116.139,"d":55.858,"s":3.4},{"a":116.139,"b":116.134,"d":55.858,"s":3.5},{"a":116.134,"b":116.117,"d":55.858,"s":3.85},{"a":116.117,"b":116.112,"d":55.858,"s":3.6},{"a":116.112,"b":116.106,"d":55.858,"s":3.3},{"a":116.106,"b":116.078,"d":55.858,"s":3.4},{"a":116.078,"b":116.056,"d":55.858,"s":3.15},{"a":116.056,"b":116.039,"d":55.858,"s":3.2},{"a":116.039,"b":116.017,"d":55.858,"s":3.45},{"a":116.017,"b":116.006,"d":55.858,"s":3.6},{"a":116.006,"b":115.984,"d":55.858,"s":3.3},{"a":115.984,"b":115.978,"d":55.858,"s":3.85},{"a":115.978,"b":115.962,"d":55.858,"s":3.6},{"a":115.962,"b":115.951,"d":55.858,"s":3.3},{"a":115.951,"b":115.934,"d":55.858,"s":3.05},
{"a":116.123,"b":116.117,"d":55.852,"s":3.6},{"a":116.117,"b":116.106,"d":55.852,"s":3.3},{"a":116.106,"b":116.095,"d":55.852,"s":3.1},{"a":116.095,"b":116.062,"d":55.852,"s":3.15},{"a":116.062,"b":116.045,"d":55.852,"s":3.0},{"a":116.045,"b":116.017,"d":55.852,"s":3.35},{"a":116.017,"b":116.006,"d":55.852,"s":3.6},{"a":116.006,"b":115.984,"d":55.852,"s":3.3},{"a":115.984,"b":115.978,"d":55.852,"s":3.8},{"a":115.978,"b":115.951,"d":55.852,"s":3.55},{"a":115.951,"b":115.939,"d":55.852,"s":3.2},{"a":115.939,"b":115.934,"d":55.852,"s":2.95},{"a":115.934,"b":115.928,"d":55.852,"s":3.2},
{"a":116.123,"b":116.112,"d":55.847,"s":3.3},{"a":116.112,"b":116.078,"d":55.847,"s":3.05},{"a":116.078,"b":116.056,"d":55.847,"s":2.95},{"a":116.056,"b":116.028,"d":55.847,"s":3.2},{"a":116.028,"b":116.012,"d":55.847,"s":3.3},{"a":116.012,"b":116.006,"d":55.847,"s":3.5},{"a":116.006,"b":115.967,"d":55.847,"s":3.1},{"a":115.967,"b":115.951,"d":55.847,"s":3.5},{"a":115.951,"b":115.945,"d":55.847,"s":3.3},{"a":115.945,"b":115.928,"d":55.847,"s":3.25},
{"a":116.117,"b":116.106,"d":55.841,"s":3.6},{"a":116.106,"b":116.101,"d":55.841,"s":3.7},{"a":116.101,"b":116.078,"d":55.841,"s":3.25},{"a":116.078,"b":116.056,"d":55.841,"s":3.1},{"a":116.056,"b":116.039,"d":55.841,"s":2.95},{"a":116.039,"b":116.023,"d":55.841,"s":3.2},{"a":116.023,"b":116.017,"d":55.841,"s":3.05},{"a":116.017,"b":116.001,"d":55.841,"s":3.2},{"a":116.001,"b":115.973,"d":55.841,"s":3.0},{"a":115.973,"b":115.962,"d":55.841,"s":2.95},{"a":115.962,"b":115.951,"d":55.841,"s":3.3},{"a":115.951,"b":115.945,"d":55.841,"s":3.6},{"a":115.945,"b":115.928,"d":55.841,"s":3.35},
{"a":116.117,"b":116.106,"d":55.835,"s":3.95},{"a":116.106,"b":116.101,"d":55.835,"s":3.75},{"a":116.101,"b":116.067,"d":55.835,"s":3.35},{"a":116.067,"b":116.056,"d":55.835,"s":3.2},{"a":116.056,"b":116.039,"d":55.835,"s":2.85},{"a":116.039,"b":116.028,"d":55.835,"s":3.15},{"a":116.028,"b":116.017,"d":55.835,"s":3.05},{"a":116.017,"b":116.001,"d":55.835,"s":3.2},{"a":116.001,"b":115.978,"d":55.835,"s":2.85},{"a":115.978,"b":115.962,"d":55.835,"s":2.9},{"a":115.962,"b":115.951,"d":55.835,"s":3.3},{"a":115.951,"b":115.945,"d":55.835,"s":3.7},{"a":115.945,"b":115.928,"d":55.835,"s":3.3},{"a":115.928,"b":115.923,"d":55.835,"s":3.6},
{"a":116.106,"b":116.095,"d":55.83,"s":3.95},{"a":116.095,"b":116.089,"d":55.83,"s":3.75},{"a":116.089,"b":116.067,"d":55.83,"s":3.35},{"a":116.067,"b":116.051,"d":55.83,"s":3.2},{"a":116.051,"b":116.034,"d":55.83,"s":2.9},{"a":116.034,"b":116.006,"d":55.83,"s":3.15},{"a":116.006,"b":115.995,"d":55.83,"s":2.75},{"a":115.995,"b":115.978,"d":55.83,"s":2.85},{"a":115.978,"b":115.962,"d":55.83,"s":2.95},{"a":115.962,"b":115.928,"d":55.83,"s":3.3},{"a":115.928,"b":115.923,"d":55.83,"s":3.6},
{"a":116.095,"b":116.067,"d":55.824,"s":3.65},{"a":116.067,"b":116.056,"d":55.824,"s":3.3},{"a":116.056,"b":116.039,"d":55.824,"s":3.4},{"a":116.039,"b":116.023,"d":55.824,"s":3.1},{"a":116.017,"b":116.012,"d":55.824,"s":3.1},{"a":116.012,"b":115.995,"d":55.824,"s":2.7},{"a":115.995,"b":115.978,"d":55.824,"s":2.95},{"a":115.978,"b":115.962,"d":55.824,"s":3.1},{"a":115.962,"b":115.934,"d":55.824,"s":3.35},{"a":115.934,"b":115.923,"d":55.824,"s":3.6},
{"a":116.056,"b":116.051,"d":55.819,"s":3.0},{"a":116.051,"b":116.039,"d":55.819,"s":2.55},{"a":116.039,"b":116.034,"d":55.819,"s":3.2},{"a":115.995,"b":115.984,"d":55.819,"s":3.2},{"a":115.984,"b":115.967,"d":55.819,"s":3.2},{"a":115.967,"b":115.945,"d":55.819,"s":3.5},{"a":115.945,"b":115.923,"d":55.819,"s":3.3},
{"a":116.056,"b":116.051,"d":55.813,"s":2.85},{"a":116.051,"b":116.045,"d":55.813,"s":2.25},{"a":116.045,"b":116.039,"d":55.813,"s":2.75},{"a":115.989,"b":115.978,"d":55.813,"s":3.3},{"a":115.978,"b":115.967,"d":55.813,"s":3.1},{"a":115.967,"b":115.945,"d":55.813,"s":3.45},{"a":115.945,"b":115.934,"d":55.813,"s":3.15},{"a":115.934,"b":115.923,"d":55.813,"s":3.65},
{"a":116.051,"b":116.045,"d":55.808,"s":2.85},{"a":115.978,"b":115.973,"d":55.808,"s":2.9},{"a":115.973,"b":115.956,"d":55.808,"s":3.35},{"a":115.956,"b":115.945,"d":55.808,"s":3.1},{"a":115.945,"b":115.939,"d":55.808,"s":3.3},{"a":115.939,"b":115.934,"d":55.808,"s":3.55},
{"a":115.973,"b":115.967,"d":55.802,"s":2.75},{"a":115.967,"b":115.951,"d":55.802,"s":3.35},{"a":115.951,"b":115.939,"d":55.802,"s":3.1},{"a":115.939,"b":115.934,"d":55.802,"s":3.35},
{"a":115.973,"b":115.967,"d":55.797,"s":2.85},{"a":115.967,"b":115.951,"d":55.797,"s":3.3},{"a":115.951,"b":115.934,"d":55.797,"s":3.1},
{"a":115.973,"b":115.962,"d":55.791,"s":3.5},{"a":115.962,"b":115.951,"d":55.791,"s":3.2},{"a":115.951,"b":115.945,"d":55.791,"s":2.95},
{"a":115.962,"b":115.956,"d":55.785,"s":3.0}
]},"layer":[{"mark":{"type":"rect","height":5.3},"encoding":{"x":{"field":"a","type":"quantitative","scale":{"domain":[116.481,115.881],"nice":false,"zero":false},"axis":{"values":[116.4,116.3,116.2,116.1,116.0,115.9],"format":".1f","title":"α (º)","grid":true,"gridColor":"#222","gridDash":[1.5,3],"gridWidth":1,"domain":false,"tickSize":9,"tickColor":"#666","tickWidth":1.5,"labelPadding":17,"titlePadding":14,"zindex":1}},"x2":{"field":"b"},"y":{"field":"d","type":"quantitative","scale":{"domain":[55.75,56.2],"nice":false,"zero":false},"axis":{"values":[55.8,55.9,56.0,56.1,56.2],"format":".1f","title":"δ (º)","grid":true,"gridColor":"#222","gridDash":[1.5,3],"gridWidth":1,"domain":false,"tickSize":13,"tickColor":"#666","tickWidth":1.5,"labelPadding":12,"titlePadding":4,"zindex":1}},"color":{"field":"s","type":"quantitative","legend":null,"scale":{"domain":[0,0.75,2.25,3.75,5.25,6],"range":["#00007f","#0000ff","#00ffff","#ffff00","#ff0000","#7f0000"],"interpolate":"rgb"}}}}]},{"width":27,"height":400,"data":{"values":[{"lo":0,"hi":6}]},"mark":{"type":"rect","color":{"gradient":"linear","x1":0,"y1":1,"x2":0,"y2":0,"stops":[{"offset":0,"color":"#00007f"},{"offset":0.125,"color":"#0000ff"},{"offset":0.375,"color":"#00ffff"},{"offset":0.625,"color":"#ffff00"},{"offset":0.875,"color":"#ff0000"},{"offset":1,"color":"#7f0000"}]}},"encoding":{"y":{"field":"lo","type":"quantitative","scale":{"domain":[0,6],"nice":false},"axis":{"orient":"right","values":[0,1,2,3,4,5,6],"format":".1f","title":"Spectral index","titleAngle":270,"titleBaseline":"top","grid":true,"gridColor":"#222","gridDash":[1.5,3],"gridWidth":1,"domain":false,"tickSize":8,"tickColor":"#666","tickWidth":1.5,"labelPadding":13,"titlePadding":8,"zindex":1}},"y2":{"field":"hi"}}}]}
